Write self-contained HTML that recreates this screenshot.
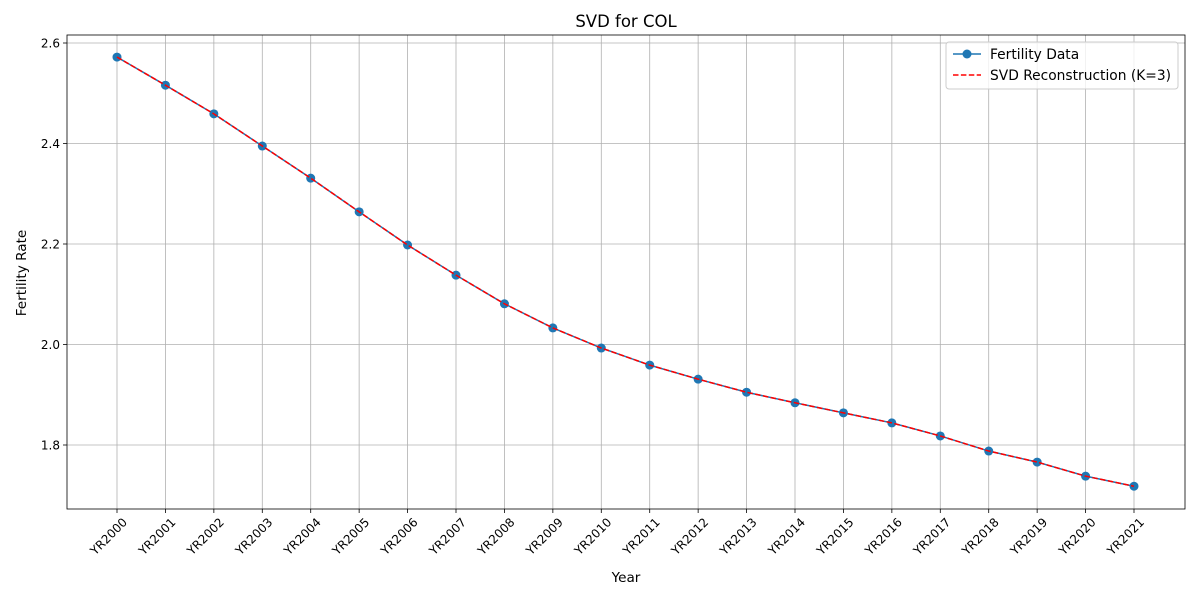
<!DOCTYPE html>
<html><head><meta charset="utf-8"><style>
body{margin:0;background:#fff;}
svg{font-family:"DejaVu Sans","Liberation Sans",sans-serif;}
</style></head><body>
<svg id="chart" width="1200" height="600" xmlns="http://www.w3.org/2000/svg"></svg>
<script>
const categories=["YR2000","YR2001","YR2002","YR2003","YR2004","YR2005","YR2006","YR2007","YR2008","YR2009","YR2010","YR2011","YR2012","YR2013","YR2014","YR2015","YR2016","YR2017","YR2018","YR2019","YR2020","YR2021"];
const fertility=[2.572,2.516,2.459,2.395,2.331,2.264,2.198,2.138,2.081,2.033,1.993,1.959,1.931,1.905,1.884,1.864,1.844,1.818,1.788,1.766,1.738,1.718];
const reconstruction=[2.572,2.516,2.459,2.395,2.331,2.264,2.198,2.138,2.081,2.033,1.993,1.959,1.931,1.905,1.884,1.864,1.844,1.818,1.788,1.766,1.738,1.718];
const yTicks=[1.8,2.0,2.2,2.4,2.6];

const svg=document.getElementById('chart');
const NS='http://www.w3.org/2000/svg';
const L=67,R=1185,T=35,B=509;
function x(i){return 117+i*(1134-117)/(categories.length-1);}
function y(v){return 445-(v-1.8)*(445-43)/0.8;}
function mk(tag,attrs,parent){const e=document.createElementNS(NS,tag);for(const k in attrs)e.setAttribute(k,attrs[k]);(parent||svg).appendChild(e);return e;}

const grid=mk('g',{});


categories.forEach((c,i)=>{
  mk('line',{x1:x(i),x2:x(i),y1:T,y2:B,stroke:'#b0b0b0','stroke-width':0.8},grid);
  mk('line',{x1:x(i),x2:x(i),y1:B,y2:B+4,stroke:'#000','stroke-width':0.8});
  const ax=x(i)+8, ay=B+11;
  const t=mk('text',{x:ax,y:ay,'font-size':12,'text-anchor':'end',transform:`rotate(-45 ${ax} ${ay})`});
  
  
  t.setAttribute('dy','0.35em');
  t.textContent=c;
});
yTicks.forEach(v=>{
  mk('line',{x1:L,x2:R,y1:y(v),y2:y(v),stroke:'#b0b0b0','stroke-width':0.8},grid);
  mk('line',{x1:L-4,x2:L,y1:y(v),y2:y(v),stroke:'#000','stroke-width':0.8});
  const t=mk('text',{x:L-7,y:y(v)+4.5,'font-size':12,'text-anchor':'end'});
  
  
  t.textContent=v.toFixed(1);
});
const frame=mk('rect',{x:L,y:T,width:R-L,height:B-T,fill:'none',stroke:'#000','stroke-width':0.8});



const line1=mk('polyline',{points:fertility.map((v,i)=>x(i)+','+y(v)).join(' '),fill:'none',stroke:'#1f77b4','stroke-width':1.5});


fertility.forEach((v,i)=>{
  const c=mk('circle',{cx:x(i),cy:y(v),r:4.5,fill:'#1f77b4'});
  
  
});
const line2=mk('polyline',{points:reconstruction.map((v,i)=>x(i)+','+y(v)).join(' '),fill:'none',stroke:'#ff0000','stroke-width':1.5,'stroke-dasharray':'5.5,2.4'});



const title=mk('text',{x:(L+R)/2,y:27,'font-size':16.5,'text-anchor':'middle'});


title.textContent='SVD for COL';
const xt=mk('text',{x:(L+R)/2,y:582,'font-size':13.6,'text-anchor':'middle'});


xt.textContent='Year';
const yt=mk('text',{x:26,y:273,'font-size':13.6,'text-anchor':'middle',transform:'rotate(-90 26 273)'});


yt.textContent='Fertility Rate';

const lg=mk('g',{});


mk('rect',{x:946,y:42,width:232,height:47,rx:3,fill:'#fff','fill-opacity':0.8,stroke:'#ccc'},lg);
mk('line',{x1:953,x2:981,y1:54,y2:54,stroke:'#1f77b4','stroke-width':1.5},lg);
mk('circle',{cx:967,cy:54,r:4.5,fill:'#1f77b4'},lg);
const l1=mk('text',{x:990,y:59,'font-size':13.8},lg);


l1.textContent='Fertility Data';
mk('line',{x1:953,x2:981,y1:75,y2:75,stroke:'#ff0000','stroke-width':1.5,'stroke-dasharray':'5.5,2.4'},lg);
const l2=mk('text',{x:990,y:80,'font-size':13.8},lg);


l2.textContent='SVD Reconstruction (K=3)';
</script>
</body></html>
